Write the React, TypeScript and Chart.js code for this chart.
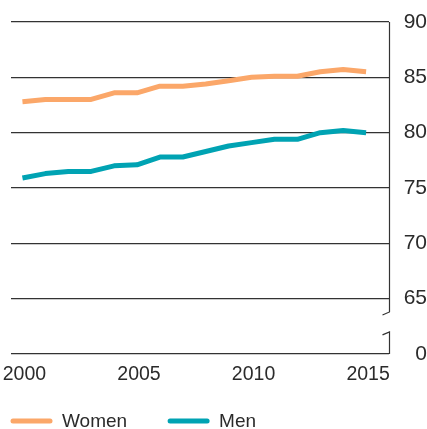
import React, { useEffect, useRef } from "react";
import { Chart, registerables } from "chart.js";

Chart.register(...registerables);

// ---- data ----
const years = [2000, 2001, 2002, 2003, 2004, 2005, 2006, 2007, 2008, 2009, 2010, 2011, 2012, 2013, 2014, 2015];
const women = [82.8, 83.0, 83.0, 83.0, 83.6, 83.6, 84.2, 84.2, 84.4, 84.7, 85.0, 85.1, 85.1, 85.5, 85.7, 85.5];
const men = [75.9, 76.3, 76.5, 76.5, 77.0, 77.1, 77.8, 77.8, 78.3, 78.8, 79.1, 79.4, 79.4, 80.0, 80.2, 80.0];
const seriesNames = ["Women", "Men"];
const xTicks = [2000, 2005, 2010, 2015];
// axis value 60 stands in for the broken-axis "0"
const yTicks = [60, 65, 70, 75, 80, 85, 90];
const yTickLabels = ["0", "65", "70", "75", "80", "85", "90"];

const FONT = "'Liberation Sans', Arial, sans-serif";
const TEXT = "#2b2b2b";

const breakAxisPlugin = {
  id: "breakAxis",
  afterDraw(chart: any) {
    const { ctx, chartArea } = chart;
    const y = chart.scales.y;
    const x = chartArea.right + 0.5;
    const p65 = y.getPixelForValue(yTicks[1]);
    const p0 = y.getPixelForValue(yTicks[0]);
    const upperEnd = p65 + (p0 - p65) * 0.24;
    const lowerStart = p65 + (p0 - p65) * 0.6;
    ctx.save();
    ctx.strokeStyle = "#333";
    ctx.lineWidth = 1.2;
    ctx.beginPath();
    ctx.moveTo(x, chartArea.top);
    ctx.lineTo(x, upperEnd);
    ctx.lineTo(x - 7, upperEnd + 3);
    ctx.moveTo(x - 7, lowerStart + 3);
    ctx.lineTo(x, lowerStart);
    ctx.lineTo(x, p0);
    ctx.stroke();
    ctx.restore();
  },
};

const legendPlugin = {
  id: "customLegend",
  afterDraw(chart: any) {
    const { ctx } = chart;
    const cy = 421;
    let cx = 13;
    ctx.save();
    ctx.font = `19px ${FONT}`;
    ctx.textBaseline = "middle";
    ctx.textAlign = "left";
    chart.data.datasets.forEach((ds: any) => {
      ctx.strokeStyle = ds.borderColor;
      ctx.lineWidth = 5;
      ctx.lineCap = "round";
      ctx.beginPath();
      ctx.moveTo(cx, cy);
      ctx.lineTo(cx + 37, cy);
      ctx.stroke();
      ctx.fillStyle = TEXT;
      const tx = cx + 49;
      ctx.fillText(ds.label, tx, cy + 1);
      cx = tx + ctx.measureText(ds.label).width + 43;
    });
    ctx.restore();
  },
};

export default function App() {
  const ref = useRef<HTMLCanvasElement | null>(null);

  useEffect(() => {
    if (!ref.current) return;
    const chart = new Chart(ref.current, {
      type: "line",
      data: {
        datasets: [
          {
            label: seriesNames[0],
            data: years.map((yr, i) => ({ x: yr, y: women[i] })),
            borderColor: "#FBA769",
            backgroundColor: "#FBA769",
            borderWidth: 5,
            pointRadius: 0,
            tension: 0,
            borderJoinStyle: "round",
          },
          {
            label: seriesNames[1],
            data: years.map((yr, i) => ({ x: yr, y: men[i] })),
            borderColor: "#00A3B3",
            backgroundColor: "#00A3B3",
            borderWidth: 5,
            pointRadius: 0,
            tension: 0,
            borderJoinStyle: "round",
          },
        ],
      },
      options: {
        responsive: false,
        animation: false,
        devicePixelRatio: 1,
        layout: { padding: { left: 11, top: 22, right: 0, bottom: 0 } },
        plugins: { legend: { display: false }, tooltip: { enabled: false } },
        scales: {
          x: {
            type: "linear",
            min: 1999.5,
            max: 2016,
            afterBuildTicks: (s: any) => {
              s.ticks = xTicks.map((v) => ({ value: v }));
            },
            afterFit: (s: any) => {
              s.height = 75;
              s.paddingLeft = 0;
              s.paddingRight = 0;
            },
            grid: { display: false, drawTicks: false },
            border: { display: false },
            ticks: {
              padding: 9,
              labelOffset: 2,
              maxRotation: 0,
              autoSkip: false,
              color: TEXT,
              font: { family: FONT, size: 19.5 },
              callback: (v: any) => String(v),
            },
          },
          y: {
            type: "linear",
            position: "right",
            min: 60,
            max: 90,
            afterBuildTicks: (s: any) => {
              s.ticks = yTicks.map((v) => ({ value: v }));
            },
            afterFit: (s: any) => {
              s.width = 38;
              s.paddingTop = 0;
              s.paddingBottom = 0;
            },
            grid: { color: "#333", lineWidth: 1.2, drawTicks: false },
            border: { display: false },
            ticks: {
              padding: 12,
              crossAlign: "far",
              color: TEXT,
              font: { family: FONT, size: 21 },
              callback: (v: any) => yTickLabels[yTicks.indexOf(v)] ?? "",
            },
          },
        },
      },
      plugins: [breakAxisPlugin, legendPlugin],
    } as any);
    return () => chart.destroy();
  }, []);

  return (
    <div style={{ position: "absolute", left: 0, top: 0, width: 427, height: 429, background: "#fff" }}>
      <canvas ref={ref} width={427} height={429} style={{ display: "block", width: 427, height: 429 }} />
    </div>
  );
}
